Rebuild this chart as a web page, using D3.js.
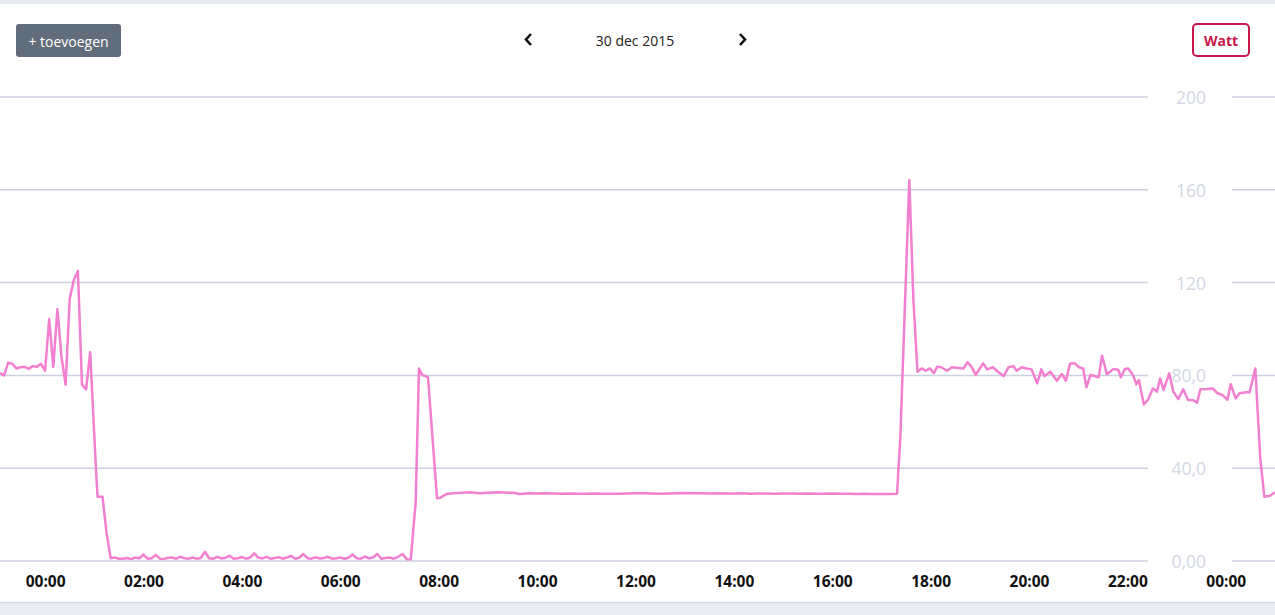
<!DOCTYPE html>
<html><head><meta charset="utf-8">
<script src="https://cdn.jsdelivr.net/npm/d3@7"></script>
<style>
html,body{margin:0;padding:0;background:#fff;overflow:hidden}
svg{display:block;font-family:"Open Sans",sans-serif}
</style></head><body>
<svg id="chart" width="1275" height="615"></svg>
<script>
// ---- data ----
const chartDate = "30 dec 2015";
const unitLabel = "Watt";
const addLabel = "+ toevoegen";
const yTickValues = [0, 40, 80, 120, 160, 200];
const xDomainMinutes = [-55, 1500]; // minutes relative to 30 dec 2015 00:00
// [minutes since 30 dec 2015 00:00, watt]
const powerSamples = [
  [-55,81],[-50,80],[-45,85.5],[-40,85],[-35,83],[-30,83.5],[-25,83.7],[-20,82.8],[-15,84],[-10,83.7],
  [-5,85],[0,82],[5,104.3],[10,83.7],[15,108.5],[20,88],[25,76],[30,113],[35,121],[40,125],
  [45,76],[50,74],[55,90],[62,40],[64,27.7],[70,27.7],[75,12],[80,1.2],
  [85,1.5],[90,1],[95,1],[100,1.3],[105,0.8],[110,1.5],[115,1.2],[120,2.8],[125,1],[130,1.2],
  [135,2.6],[140,1],[145,0.9],[150,1.4],[155,1.5],[160,1],[165,1.8],[170,1.2],[175,1],[180,1.5],
  [185,1],[190,1.3],[195,4],[200,1.2],[205,1],[210,1.8],[215,1.1],[220,1.4],[225,2.3],[230,1],
  [235,1.2],[240,1.7],[245,1],[250,1.5],[255,3.3],[260,1.5],[265,1.1],[270,1.8],[275,1],[280,1.3],
  [285,1.6],[290,1],[295,1.5],[300,2.2],[305,1],[310,1.4],[315,3],[320,1.2],[325,1],[330,1.6],
  [335,1.1],[340,1.3],[345,1.8],[350,1],[355,1.2],[360,1.5],[365,1],[370,1.4],[375,2.8],[380,1.2],
  [385,1],[390,1.9],[395,1.2],[400,1.5],[405,3],[410,1],[415,1.3],[420,1.5],[425,1],[430,1.7],
  [436,3],[441,0.8],[446,0.7],
  [452,25.6],[456,83],[460,80.2],[467,79.2],[478,27],[482,27.3],[490,28.9],[498,29.2],[518,29.6],
  [530,29.2],[551,29.6],[571,29.4],[579,28.9],
  [590,29.2],[600,29.1],[610,29.2],[620,29.1],[630,29.0],[640,29.1],[650,29.0],[660,29.0],[670,29.1],
  [680,29.0],[690,29.0],[700,29.0],[710,29.1],[720,29.2],[730,29.2],[740,29.1],[750,29.0],[760,29.1],
  [770,29.2],[780,29.3],[790,29.2],[800,29.2],[810,29.1],[820,29.2],[830,29.1],[840,29.1],[850,29.2],
  [860,29.0],[870,29.1],[880,29.1],[890,29.0],[900,29.1],[910,29.1],[920,29.0],[930,29.1],[940,29.0],
  [950,29.0],[960,29.1],[970,29.0],[980,29.0],[990,28.9],[1000,29.0],[1010,28.9],[1020,28.9],
  [1030,28.9],[1039,29.0],
  [1043,52.9],[1054,164.2],[1059,112.5],[1064,81.6],[1069,83],[1074,82],[1079,83],[1084,81],
  [1088,83.7],[1093,83.5],[1100,82],[1106,83.5],[1112,83.3],[1120,83],[1125,85.6],[1130,83.7],
  [1135,80.2],[1144,85.2],[1149,82.6],[1156,83.5],[1162,81.6],[1169,79.7],[1175,83.5],[1181,84],
  [1185,82],[1191,83.5],[1197,83],[1203,82.6],[1210,76.6],[1215,82.6],[1219,79.7],[1226,81.6],
  [1234,77.7],[1240,80.6],[1245,77.7],[1250,85],[1256,85.2],[1261,83.5],[1266,83],[1270,74.9],
  [1275,80.2],[1282,79.5],[1285,79.2],[1289,88.5],[1295,80.5],[1303,82.8],[1309,82.3],[1312,79.2],
  [1317,82.8],[1321,83],[1327,80],[1331,76.2],[1334,78],[1340,67.5],[1345,69.4],[1351,74.4],
  [1356,73],[1360,78.7],[1364,73.7],[1371,80.9],[1376,73],[1382,69.8],[1388,74],[1394,69.4],
  [1400,69.4],[1405,68.2],[1409,74],[1417,74.1],[1424,74.4],[1430,72.3],[1436,71.5],[1442,69.5],
  [1446,76.2],[1452,70.1],[1457,72.3],[1465,72.7],[1469,72.7],[1476,83],[1482,44.3],[1487,27.7],
  [1494,28.1],[1500,29.6]
];

// ---- chart ----
const W = 1275, H = 615;
const svg = d3.select("#chart");
const base = new Date(2015, 11, 30, 0, 0);
const toDate = m => new Date(base.getTime() + m * 60000);

const x = d3.scaleTime().domain(xDomainMinutes.map(toDate)).range([0, W]);
const y = d3.scaleLinear().domain([0, 200]).range([561, 97]);

// page bands
svg.append("rect").attr("x", 0).attr("y", 0).attr("width", W).attr("height", 4).attr("fill", "#e8ebf2");
svg.append("rect").attr("x", 0).attr("y", 603).attr("width", W).attr("height", 12).attr("fill", "#e9ecf2");
svg.append("line").attr("x1", 0).attr("x2", W).attr("y1", 602.5).attr("y2", 602.5).attr("stroke", "#d5d9e3").attr("stroke-width", 1.5);

// gridlines (with gap for labels)
const grid = svg.append("g");
yTickValues.forEach(v => {
  grid.append("line").attr("x1", 0).attr("x2", 1148).attr("y1", y(v)).attr("y2", y(v))
    .attr("stroke", "#cbd2df").attr("stroke-width", 1.5);
  grid.append("line").attr("x1", 1232).attr("x2", W).attr("y1", y(v)).attr("y2", y(v))
    .attr("stroke", "#cbd2df").attr("stroke-width", 1.5);
});

// y labels
const nl = d3.formatLocale({decimal: ",", thousands: ".", grouping: [3], currency: ["€", ""]});
const yFmt = nl.format(".3r");
svg.append("g").selectAll("text").data(yTickValues).join("text")
  .attr("x", 1206).attr("y", d => y(d)).attr("dy", "0.4em")
  .attr("text-anchor", "end").attr("font-size", 17.5).attr("fill", "#d2d7e3")
  .text(d => yFmt(d));

// x axis
const xAxis = d3.axisBottom(x).ticks(d3.timeHour.every(2)).tickFormat(d3.timeFormat("%H:%M")).tickSize(0).tickPadding(0);
const gx = svg.append("g").attr("transform", "translate(0,575.5)").call(xAxis);
gx.select(".domain").remove();
gx.selectAll("text").attr("font-family", "'Open Sans',sans-serif").attr("font-size", 15.5)
  .attr("font-weight", "bold").attr("fill", "#111");

// line
const line = d3.line().x(d => x(toDate(d[0]))).y(d => y(d[1]));
svg.append("path").datum(powerSamples).attr("d", line)
  .attr("fill", "none").attr("stroke", "#f27fcf").attr("stroke-width", 2.5)
  .attr("stroke-linejoin", "round");

// header controls
const add = svg.append("g");
add.append("rect").attr("x", 16).attr("y", 24).attr("width", 105).attr("height", 33).attr("rx", 3).attr("fill", "#626d7c");
add.append("text").attr("x", 68.5).attr("y", 46.5).attr("text-anchor", "middle")
  .attr("font-size", 14).attr("fill", "#fff").text(addLabel);

svg.append("path").attr("d", "M531,34 L526,39.5 L531,45").attr("fill", "none").attr("stroke", "#111").attr("stroke-width", 2.6);
svg.append("path").attr("d", "M740,34 L745,39.5 L740,45").attr("fill", "none").attr("stroke", "#111").attr("stroke-width", 2.6);
svg.append("text").attr("x", 635).attr("y", 45.5).attr("text-anchor", "middle")
  .attr("font-size", 14).attr("fill", "#222").text(chartDate);

const watt = svg.append("g");
watt.append("rect").attr("x", 1193).attr("y", 24).attr("width", 56).attr("height", 32).attr("rx", 4)
  .attr("fill", "#fff").attr("stroke", "#c8174b").attr("stroke-width", 2);
watt.append("text").attr("x", 1221).attr("y", 45.5).attr("text-anchor", "middle")
  .attr("font-size", 14).attr("font-weight", "bold").attr("fill", "#c8174b").text(unitLabel);
</script>
</body></html>
